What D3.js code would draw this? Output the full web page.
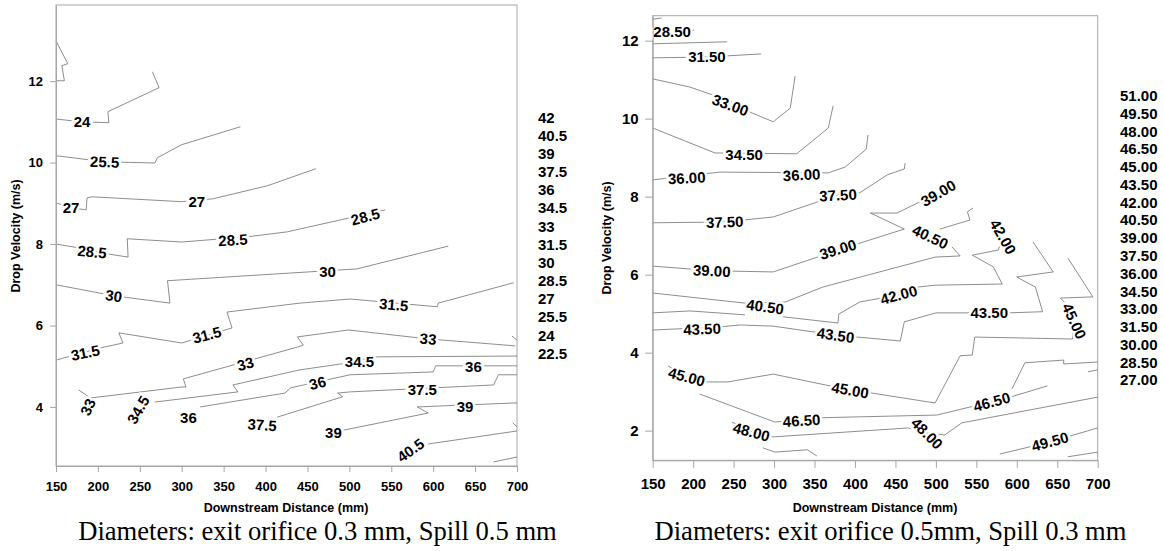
<!DOCTYPE html>
<html>
<head>
<meta charset="utf-8">
<script src="https://cdn.jsdelivr.net/npm/d3@7"></script>
<style>
  body { margin: 0; background: #fff; }
</style>
</head>
<body>
<svg id="chart" width="1164" height="551"></svg>
<script>
const X_TICKS = [150, 200, 250, 300, 350, 400, 450, 500, 550, 600, 650, 700];
const LEFT_Y_TICKS = [4, 6, 8, 10, 12];
const RIGHT_Y_TICKS = [2, 4, 6, 8, 10, 12];

const LEFT_LEVELS = ["42", "40.5", "39", "37.5", "36", "34.5", "33", "31.5", "30", "28.5", "27", "25.5", "24", "22.5"];
const RIGHT_LEVELS = ["51.00", "49.50", "48.00", "46.50", "45.00", "43.50", "42.00", "40.50", "39.00",
  "37.50", "36.00", "34.50", "33.00", "31.50", "30.00", "28.50", "27.00"];

// contour polylines, [distance mm, velocity m/s]
const leftLines = [
  [[150, 12.99], [164, 12.43], [157, 12.38], [160, 12.01], [150, 12.01]],
  [[150, 11.07], [181, 11.0], [213, 10.98], [212, 11.25], [273, 11.84], [265, 12.23]],
  [[150, 10.17], [208, 10.02], [268, 9.99], [271, 10.12], [300, 10.44], [370, 10.88]],
  [[150, 9.01], [168, 8.89], [186, 8.84], [187, 9.13], [193, 9.16], [300, 9.04], [337, 9.11], [402, 9.43], [460, 9.85]],
  [[150, 8.0], [176, 7.91], [211, 7.76], [236, 7.68], [235, 8.13], [300, 8.05], [379, 8.18], [426, 8.30], [441, 8.37], [543, 8.84]],
  [[150, 7.0], [219, 6.73], [286, 6.55], [283, 7.10], [509, 7.39], [618, 7.95]],
  [[150, 5.15], [203, 5.45], [230, 5.57], [225, 5.82], [300, 5.57], [360, 5.94], [354, 6.33], [441, 6.55], [501, 6.65], [605, 6.46], [606, 6.55], [696, 7.05]],
  [[177, 4.42], [191, 4.22], [300, 4.49], [305, 4.49], [302, 4.69], [438, 5.47], [445, 5.52], [438, 5.72], [499, 5.89], [594, 5.67], [698, 5.50]],
  [[694, 5.74], [700, 5.64]],
  [[268, 4.12], [367, 4.37], [361, 4.54], [441, 4.91], [498, 5.08], [533, 5.23], [700, 5.25]],
  [[322, 4.0], [423, 4.34], [430, 4.47], [501, 4.79], [600, 4.86], [603, 5.01], [700, 5.01]],
  [[414, 3.75], [492, 4.25], [486, 4.34], [501, 4.37], [672, 4.54], [678, 4.79], [700, 4.79]],
  [[493, 3.43], [594, 3.85], [581, 4.0], [700, 4.10]],
  [[594, 3.09], [700, 3.41]],
  [[695, 3.61], [700, 3.51]],
  [[672, 2.65], [700, 2.77]]
];

// [text, distance, velocity, angle]
const leftLabels = [
  ["24", 181, 11.0, 0],
  ["25.5", 208, 10.02, 2],
  ["27", 168, 8.89, 0],
  ["27", 318, 9.04, 0],
  ["28.5", 193, 7.81, 6],
  ["28.5", 361, 8.10, -3],
  ["28.5", 519, 8.67, -15],
  ["30", 219, 6.73, 8],
  ["30", 474, 7.32, 0],
  ["31.5", 185, 5.33, -12],
  ["31.5", 330, 5.77, -15],
  ["31.5", 553, 6.51, 5],
  ["33", 188, 4.0, -65],
  ["33", 376, 5.06, -15],
  ["33", 594, 5.67, 5],
  ["34.5", 248, 3.93, -60],
  ["34.5", 512, 5.11, 0],
  ["36", 308, 3.75, 0],
  ["36", 462, 4.59, -15],
  ["36", 648, 4.98, 0],
  ["37.5", 396, 3.56, 4],
  ["37.5", 587, 4.42, 0],
  ["39", 481, 3.36, 0],
  ["39", 638, 4.0, 0],
  ["40.5", 573, 2.94, -35]
];

const rightLines = [
  [[150, 12.55], [161, 12.58]],
  [[195, 12.25], [201, 12.27]],
  [[150, 11.92], [242, 11.97]],
  [[150, 11.56], [217, 11.58], [284, 11.66]],
  [[150, 11.02], [196, 10.81], [246, 10.45], [270, 10.17], [299, 9.92], [320, 10.27], [326, 11.09]],
  [[150, 9.76], [227, 9.12], [328, 9.10], [367, 9.76], [373, 10.33]],
  [[150, 8.43], [233, 8.63], [367, 8.61], [388, 8.76], [414, 9.22], [416, 9.58]],
  [[150, 7.33], [239, 7.35], [299, 7.48], [353, 7.86], [379, 8.04], [406, 8.10], [440, 8.56], [461, 8.71], [462, 8.86]],
  [[150, 6.22], [223, 6.10], [299, 6.07], [379, 6.63], [461, 7.17], [419, 7.58], [452, 7.58], [503, 8.10]],
  [[150, 5.53], [264, 5.27], [314, 5.30], [360, 5.68], [499, 6.45], [530, 6.48], [520, 6.71]],
  [[505, 7.17], [542, 7.40], [539, 7.61], [546, 7.71]],
  [[150, 5.02], [196, 5.07], [264, 4.97]],
  [[311, 4.92], [379, 4.76], [380, 4.99], [406, 5.30], [454, 5.48], [477, 5.68], [499, 5.73], [582, 5.76], [571, 6.20], [545, 6.50], [577, 6.63], [583, 6.97]],
  [[150, 4.58], [233, 4.66], [258, 4.71], [299, 4.68], [376, 4.45], [403, 4.40], [456, 4.30], [461, 4.79], [500, 5.02], [589, 5.02], [632, 5.05], [623, 5.68], [600, 5.94], [645, 6.07], [620, 6.84]],
  [[169, 3.66], [192, 3.38], [215, 3.25], [243, 3.25], [299, 3.45], [394, 3.04], [419, 2.97], [499, 2.71], [530, 3.92], [545, 3.94], [548, 4.40], [669, 4.35], [670, 4.79], [660, 5.27], [654, 5.40], [694, 5.43], [663, 6.43]],
  [[208, 2.94], [301, 2.22], [355, 2.33], [501, 2.40], [569, 2.74], [592, 2.86], [638, 3.15]],
  [[594, 3.07], [610, 3.74], [658, 3.81], [658, 3.71], [700, 3.76]],
  [[688, 3.51], [700, 3.56]],
  [[248, 2.22], [273, 1.97], [299, 1.84], [466, 2.07], [489, 1.94], [511, 1.89], [532, 2.20], [700, 2.86]],
  [[286, 1.56], [301, 1.45], [341, 1.51], [353, 1.35]],
  [[579, 1.40], [641, 1.71], [700, 2.07]],
  [[663, 1.33], [700, 1.45]]
];

const rightLabels = [
  ["28.50", 174, 12.22, 0],
  ["31.50", 217, 11.58, 0],
  ["33.00", 246, 10.35, 20],
  ["34.50", 263, 9.07, 0],
  ["36.00", 192, 8.48, -3],
  ["36.00", 334, 8.56, -3],
  ["37.50", 239, 7.35, -2],
  ["37.50", 379, 8.04, -3],
  ["39.00", 223, 6.10, 3],
  ["39.00", 379, 6.65, -17],
  ["39.00", 503, 8.09, -30],
  ["40.50", 289, 5.18, 8],
  ["40.50", 493, 6.97, 25],
  ["42.00", 454, 5.48, -15],
  ["42.00", 583, 6.97, 60],
  ["43.50", 211, 4.61, -2],
  ["43.50", 376, 4.45, 8],
  ["43.50", 566, 5.02, 0],
  ["45.00", 192, 3.38, 15],
  ["45.00", 394, 3.04, 10],
  ["45.00", 671, 4.81, 65],
  ["46.50", 334, 2.26, -3],
  ["46.50", 569, 2.74, -15],
  ["48.00", 272, 1.97, 15],
  ["48.00", 489, 1.93, 45],
  ["49.50", 641, 1.72, -15]
];

const svg = d3.select("#chart");
const SANS = "'Liberation Sans', Arial, sans-serif";
const SERIF = "'Liberation Serif', 'Times New Roman', serif";

function drawPanel(p) {
  const g = svg.append("g");

  const x = d3.scaleLinear().domain([150, 700]).range([p.left, p.right]);
  const y = d3.scaleLinear().domain(p.yDomain).range([p.bottom, p.top]);

  // frame
  g.append("rect")
    .attr("x", p.left).attr("y", p.top)
    .attr("width", p.right - p.left).attr("height", p.bottom - p.top)
    .attr("fill", "none").attr("stroke", "#a6a6a6").attr("stroke-width", 1);

  // contour lines
  const line = d3.line().x(d => x(d[0])).y(d => y(d[1]));
  g.append("g").selectAll("path")
    .data(p.lines)
    .join("path")
      .attr("d", line)
      .attr("fill", "none")
      .attr("stroke", "#707070")
      .attr("stroke-width", 0.8);

  // contour labels (white halo breaks the line)
  g.append("g").selectAll("text")
    .data(p.labels)
    .join("text")
      .attr("transform", d => `translate(${x(d[1])},${y(d[2])}) rotate(${d[3]})`)
      .attr("text-anchor", "middle")
      .attr("dy", "0.36em")
      .attr("font-family", SANS)
      .attr("font-weight", "bold")
      .attr("font-size", p.labelSize)
      .attr("fill", "#000")
      .attr("stroke", "#fff")
      .attr("stroke-width", 5)
      .attr("paint-order", "stroke")
      .text(d => d[0]);

  // axes
  const styleAxis = ax => {
    ax.select(".domain").attr("stroke", "#a6a6a6");
    ax.selectAll(".tick line").attr("stroke", "#a6a6a6");
    ax.selectAll("text")
      .attr("font-family", SANS)
      .attr("font-weight", "bold")
      .attr("font-size", p.tickSize)
      .attr("fill", "#000");
  };

  g.append("g")
    .attr("transform", `translate(0,${p.bottom})`)
    .call(d3.axisBottom(x).tickValues(X_TICKS).tickSize(p.tickLen).tickSizeOuter(0).tickPadding(p.xPad))
    .call(styleAxis);

  g.append("g")
    .attr("transform", `translate(${p.left},0)`)
    .call(d3.axisLeft(y).tickValues(p.yTicks).tickSize(p.tickLen).tickSizeOuter(0).tickPadding(p.yPad))
    .call(styleAxis);

  // axis titles
  g.append("text")
    .attr("x", p.xTitleX).attr("y", 512)
    .attr("text-anchor", "middle")
    .attr("font-family", SANS).attr("font-weight", "bold").attr("font-size", 12.5)
    .text("Downstream Distance (mm)");

  g.append("text")
    .attr("transform", `translate(${p.yTitleX},${p.yTitleY}) rotate(-90)`)
    .attr("text-anchor", "middle")
    .attr("dy", "0.35em")
    .attr("font-family", SANS).attr("font-weight", "bold").attr("font-size", 12.5)
    .text("Drop Velocity (m/s)");

  // level list at the side
  g.append("g").selectAll("text")
    .data(p.levels)
    .join("text")
      .attr("x", p.legendX)
      .attr("y", (d, i) => p.legendY + i * p.legendStep)
      .attr("dy", "0.36em")
      .attr("font-family", SANS)
      .attr("font-weight", "bold")
      .attr("font-size", 15)
      .text(d => d);

  // caption
  g.append("text")
    .attr("x", p.captionX).attr("y", 540)
    .attr("text-anchor", "middle")
    .attr("font-family", SERIF)
    .attr("font-size", 26.6)
    .text(p.caption);
}

drawPanel({
  left: 56, right: 517, top: 5, bottom: 466,
  yDomain: [2.55, 13.87], yTicks: LEFT_Y_TICKS,
  lines: leftLines, labels: leftLabels, levels: LEFT_LEVELS,
  labelSize: 15, tickSize: 13, tickLen: 6, xPad: 10, yPad: 7,
  xTitleX: 286, yTitleX: 16, yTitleY: 236,
  legendX: 538, legendY: 117.3, legendStep: 18.15,
  captionX: 317.5,
  caption: "Diameters: exit orifice 0.3 mm, Spill 0.5 mm"
});

drawPanel({
  left: 652.7, right: 1097.7, top: 15.7, bottom: 460.3,
  yDomain: [1.24, 12.64], yTicks: RIGHT_Y_TICKS,
  lines: rightLines, labels: rightLabels, levels: RIGHT_LEVELS,
  labelSize: 15, tickSize: 15, tickLen: 7.5, xPad: 11, yPad: 6.5,
  xTitleX: 875, yTitleX: 607, yTitleY: 238,
  legendX: 1120, legendY: 95.7, legendStep: 17.77,
  captionX: 890.5,
  caption: "Diameters: exit orifice 0.5mm, Spill 0.3 mm"
});
</script>
</body>
</html>
